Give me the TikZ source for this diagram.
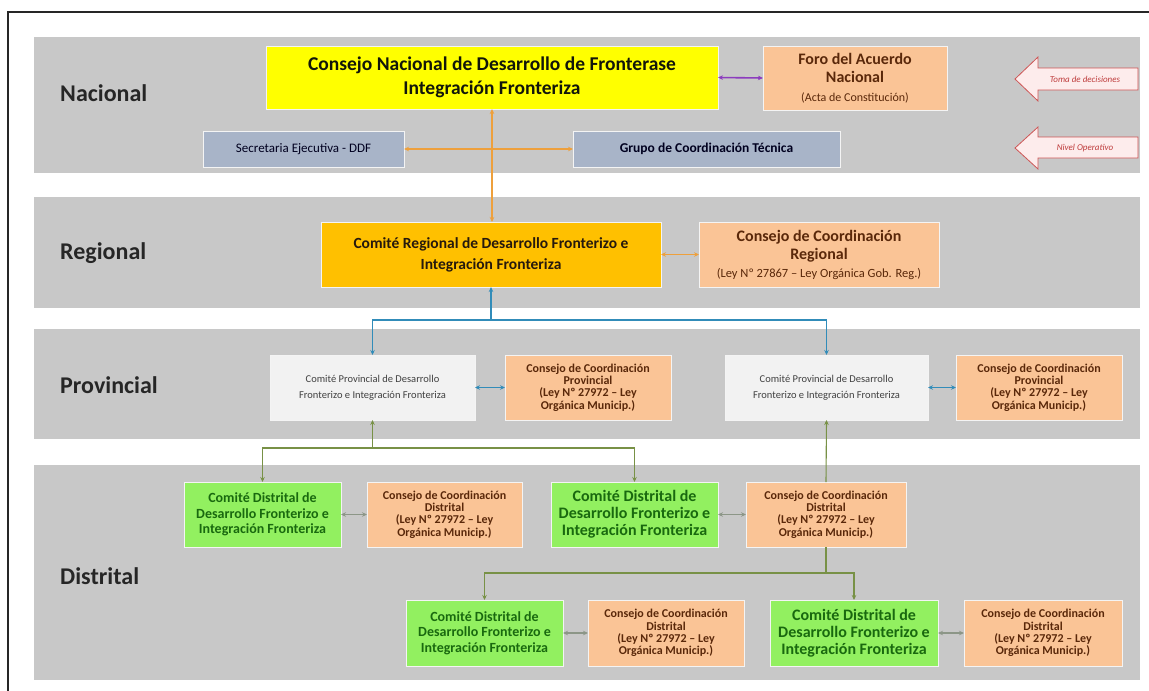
\documentclass[tikz,border=0pt]{standalone}
\usepackage{fontspec}
\setmainfont{Carlito}
\usetikzlibrary{arrows.meta,calc}
\definecolor{bandgray}{RGB}{200,200,200}
\definecolor{yel}{RGB}{255,255,0}
\definecolor{peach}{RGB}{250,196,150}
\definecolor{amber}{RGB}{255,192,0}
\definecolor{slate}{RGB}{168,180,200}
\definecolor{pale}{RGB}{242,242,242}
\definecolor{lime}{RGB}{146,240,96}
\definecolor{orng}{RGB}{238,160,60}
\definecolor{purp}{RGB}{140,60,190}
\definecolor{bluec}{RGB}{49,140,185}
\definecolor{olive}{RGB}{120,145,70}
\definecolor{grayc}{RGB}{140,150,135}
\definecolor{brownt}{RGB}{90,40,10}
\definecolor{greent}{RGB}{25,105,15}
\definecolor{redo}{RGB}{205,85,85}
\definecolor{redf}{RGB}{253,236,236}
\definecolor{redt}{RGB}{190,60,60}
\newcommand\fsz[2]{\fontsize{#1}{#2}\selectfont}
\begin{document}
\begin{tikzpicture}[x=1pt,y=-1pt,
  box/.style={inner sep=1pt,outer sep=0pt,align=center,anchor=north west,draw=white!80!bandgray,line width=0.6pt},
  lvl/.style={anchor=west,inner sep=0pt,text=black!85,font=\fsz{24}{26}\bfseries},
  con/.style={line width=1.1pt,{Stealth[length=5pt,width=4.5pt]}-{Stealth[length=5pt,width=4.5pt]}},
  ar/.style={line width=1.1pt,-{Stealth[length=5pt,width=4.5pt]}},
  ra/.style={line width=1.1pt,{Stealth[length=5pt,width=4.5pt]}-},
  ln/.style={line width=1.1pt},
  comdis/.style={box,fill=lime,text=greent},
  comdisA/.style={comdis,font=\fsz{14}{15.5}\bfseries},
  comdisB/.style={comdis,font=\fsz{16}{17}\bfseries},
  cons/.style={box,fill=peach,text=brownt,font=\bfseries},
  consS/.style={cons,font=\fsz{12}{12.3}\bfseries},
  provc/.style={box,fill=pale,text=black!75,font=\fsz{10.5}{16}},
  redarrow/.style={draw=redo,fill=redf,line width=0.8pt},
  redlbl/.style={text=redt,font=\fsz{9}{10}\itshape,inner sep=0pt}
]
\useasboundingbox (0,0) rectangle (1149,691);
\fill[white] (0,0) rectangle (1149,691);
% frame
\draw[line width=1.6pt,black!85] (8,691) -- (8,12) -- (1149,12);
% bands
\fill[bandgray] (34,37) rectangle (1140,173);
\fill[bandgray] (34,197) rectangle (1140,308);
\fill[bandgray] (34,329) rectangle (1140,439);
\fill[bandgray] (34,465) rectangle (1140,680);
% level labels
\node[lvl] (lnac) at (60,93) {Nacional};
\node[lvl] (lreg) at (60,253) {Regional};
\node[lvl] (lprov) at (60,385) {Provincial};
\node[lvl] (ldis) at (60,576) {Distrital};

% ---- Nacional
\node[box,fill=yel,text=black!85!olive,font=\fsz{19.5}{24}\bfseries,minimum width=452pt,minimum height=63pt] (nac) at (266,46)
  {Consejo Nacional de Desarrollo de Fronterase\\Integración Fronteriza};
\node[cons,font=\fsz{16}{18.5}\bfseries,minimum width=184pt,minimum height=64pt] (foro) at (763,46)
  {Foro del Acuerdo\\Nacional\\{\fsz{12}{15}\mdseries(Acta de Constitución)}};
\node[box,fill=slate,text=black!80!blue!60!black,font=\fsz{13}{14},minimum width=201pt,minimum height=36pt] (sec) at (203,131)
  {Secretaria Ejecutiva - DDF};
\node[box,fill=slate,text=black!80!blue!60!black,font=\fsz{13.5}{14}\bfseries,minimum width=267pt,minimum height=36pt] (grupo) at (573,131)
  {Grupo de Coordinación Técnica};

% red arrows
\draw[redarrow] (1015,79) -- (1038,57) -- (1038,68) -- (1138,68) -- (1138,90) -- (1038,90) -- (1038,101) -- cycle;
\node[redlbl] (toma) at (1085,79) {Toma de decisiones};
\draw[redarrow] (1015,148) -- (1038,127) -- (1038,137) -- (1138,137) -- (1138,158) -- (1038,158) -- (1038,169) -- cycle;
\node[redlbl] (nivel) at (1085,148) {Nivel Operativo};

% ---- Regional
\node[box,fill=amber,text=black!80!brown,font=\fsz{15.5}{21}\bfseries,minimum width=340pt,minimum height=65pt] (reg) at (321,222)
  {Comité Regional de Desarrollo Fronterizo e\\Integración Fronteriza};
\node[cons,font=\fsz{16}{18}\bfseries,minimum width=240pt,minimum height=65pt] (creg) at (699,222)
  {Consejo de Coordinación\\Regional\\{\fsz{12.5}{16}\mdseries(Ley Nº 27867 – Ley Orgánica Gob. Reg.)}};

% ---- Provincial
\node[provc,minimum width=205pt,minimum height=65pt] (prov1) at (270,355)
  {Comité Provincial de Desarrollo\\Fronterizo e Integración Fronteriza};
\node[consS,minimum width=166pt,minimum height=65pt] (cprov1) at (505,355)
  {Consejo de Coordinación\\Provincial\\(Ley Nº 27972 – Ley\\Orgánica Municip.)};
\node[provc,minimum width=203pt,minimum height=65pt] (prov2) at (725,355)
  {Comité Provincial de Desarrollo\\Fronterizo e Integración Fronteriza};
\node[consS,minimum width=166pt,minimum height=65pt] (cprov2) at (956,355)
  {Consejo de Coordinación\\Provincial\\(Ley Nº 27972 – Ley\\Orgánica Municip.)};

% ---- Distrital
\node[comdisA,minimum width=157pt,minimum height=65pt] (cd1) at (184,482)
  {Comité Distrital de\\Desarrollo Fronterizo e\\Integración Fronteriza};
\node[consS,minimum width=155pt,minimum height=65pt] (cdd1) at (367,482)
  {Consejo de Coordinación\\Distrital\\(Ley Nº 27972 – Ley\\Orgánica Municip.)};
\node[comdisB,minimum width=167pt,minimum height=65pt] (cd2) at (551,482)
  {Comité Distrital de\\Desarrollo Fronterizo e\\Integración Fronteriza};
\node[consS,minimum width=160pt,minimum height=65pt] (cdd2) at (746,482)
  {Consejo de Coordinación\\Distrital\\(Ley Nº 27972 – Ley\\Orgánica Municip.)};
\node[comdisA,minimum width=157pt,minimum height=66pt] (cd3) at (406,600)
  {Comité Distrital de\\Desarrollo Fronterizo e\\Integración Fronteriza};
\node[consS,minimum width=156pt,minimum height=66pt] (cdd3) at (588,600)
  {Consejo de Coordinación\\Distrital\\(Ley Nº 27972 – Ley\\Orgánica Municip.)};
\node[comdisB,minimum width=168pt,minimum height=66pt] (cd4) at (770,600)
  {Comité Distrital de\\Desarrollo Fronterizo e\\Integración Fronteriza};
\node[consS,minimum width=158pt,minimum height=66pt] (cdd4) at (964,600)
  {Consejo de Coordinación\\Distrital\\(Ley Nº 27972 – Ley\\Orgánica Municip.)};

% ---- connectors
\draw[con,purp,line width=1.6pt] (nac.east) -- (foro.west);
\draw[con,orng] (sec.east) -- (grupo.west);
\draw[con,orng] (nac.south) -- (nac.south |- reg.north);
\draw[con,orng] (reg.east) -- (creg.west);

\coordinate (bj) at ($(reg.south)+(0,33)$);
\draw[ra,bluec] (reg.south) -- (bj);
\draw[ar,bluec] (bj) -| (prov1.north);
\draw[ar,bluec] (bj) -| (prov2.north);
\draw[con,bluec] (prov1.east) -- (cprov1.west);
\draw[con,bluec] (prov2.east) -- (cprov2.west);

\coordinate (gj1) at ($(prov1.south)+(0,28)$);
\draw[ra,olive] (prov1.south) -- (gj1);
\draw[ar,olive] (gj1) -| (cd1.north);
\draw[ar,olive] (gj1) -| (cd2.north);
\draw[ra,olive] (prov2.south) -- (cdd2.north);
\coordinate (gj2) at ($(cdd2.south)+(0,26)$);
\draw[ln,olive] (cdd2.south) -- (gj2);
\draw[ar,olive] (gj2) -| (cd3.north);
\draw[ar,olive] (gj2) -| (cd4.north);

\draw[con,grayc] (cd1.east) -- (cdd1.west);
\draw[con,grayc] (cd2.east) -- (cdd2.west);
\draw[con,grayc] (cd3.east) -- (cdd3.west);
\draw[con,grayc] (cd4.east) -- (cdd4.west);
\end{tikzpicture}
\end{document}
